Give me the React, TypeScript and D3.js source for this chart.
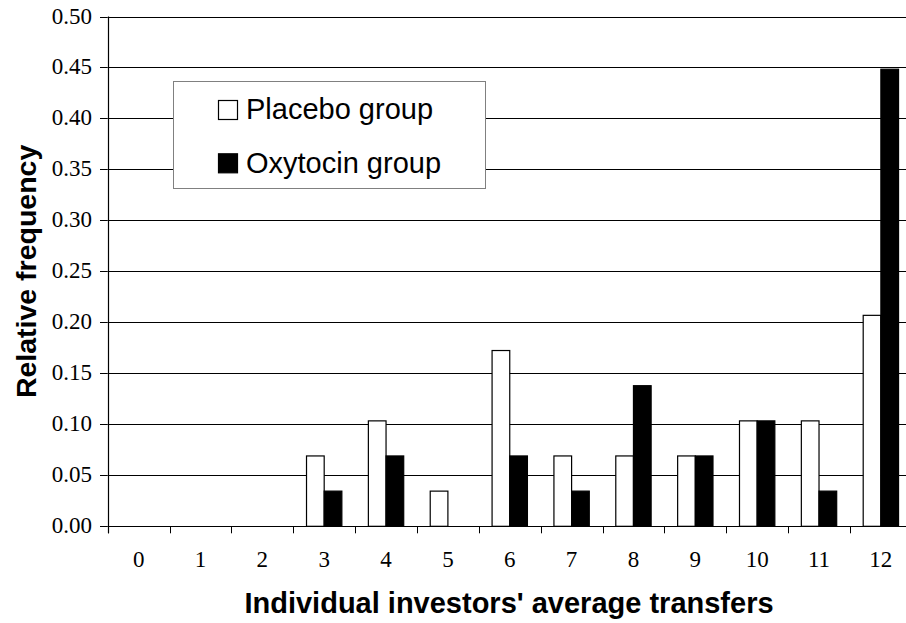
import React from "react";
import * as d3 from "d3";

const categories = ["0", "1", "2", "3", "4", "5", "6", "7", "8", "9", "10", "11", "12"];
const placebo = [0, 0, 0, 0.069, 0.1034, 0.0345, 0.1724, 0.069, 0.069, 0.069, 0.1034, 0.1034, 0.2069];
const oxytocin = [0, 0, 0, 0.0345, 0.069, 0, 0.069, 0.0345, 0.1379, 0.069, 0.1034, 0.0345, 0.4483];
const yTicks = [0, 0.05, 0.1, 0.15, 0.2, 0.25, 0.3, 0.35, 0.4, 0.45, 0.5];
const seriesNames = ["Placebo group", "Oxytocin group"];
const seriesFills = ["#ffffff", "#000000"];

const W = 906;
const H = 623;
const left = 107.7;
const right = 911.8;
const top = 16.5;
const bottom = 526.3;

export default function App() {
  const x = d3.scaleBand<string>().domain(categories).range([left, right]).paddingInner(1.5 / 3.5).paddingOuter(0.75 / 3.5);
  const xs = d3.scaleBand<string>().domain(seriesNames).range([0, x.bandwidth()]);
  const y = d3.scaleLinear().domain([0, 0.5]).range([bottom, top]);
  const step = x.step();
  const data = [placebo, oxytocin];
  const fmt = d3.format(".2f");
  const px = (v: number) => Math.round(v) + 0.5;

  return (
    <svg width={W} height={H} style={{ position: "absolute", left: 0, top: 0, background: "#fff" }}>
      {/* gridlines */}
      {yTicks.map((t) => (
        <line key={"g" + t} x1={left} x2={W} y1={px(y(t))} y2={px(y(t))} stroke="#000" strokeWidth={1} />
      ))}
      {/* y ticks */}
      {yTicks.map((t) => (
        <g key={"yt" + t}>
          <line x1={100} x2={left} y1={px(y(t))} y2={px(y(t))} stroke="#000" />
          <text x={92} y={y(t) + 7} textAnchor="end" fontFamily="'Liberation Serif', 'Times New Roman', serif" fontSize={23}>
            {fmt(t)}
          </text>
        </g>
      ))}
      {/* legend */}
      <rect x={173.5} y={81.5} width={312} height={107} fill="#fff" stroke="#808080" strokeWidth={1} />
      {seriesNames.map((n, i) => (
        <g key={n}>
          <rect x={218.5} y={100.5 + i * 53.3} width={19} height={19} fill={seriesFills[i]} stroke="#000" strokeWidth={1.2} />
          <text x={246} y={119 + i * 53.5} fontFamily="'Liberation Sans', Arial, sans-serif" fontSize={29}>
            {n}
          </text>
        </g>
      ))}
      {/* bars */}
      {categories.map((c, ci) => (
        <g key={"c" + c}>
          {data.map((s, si) =>
            s[ci] > 0 ? (
              <rect
                key={si}
                x={(x(c) as number) + (xs(seriesNames[si]) as number)}
                y={y(s[ci])}
                width={xs.bandwidth()}
                height={bottom - y(s[ci])}
                fill={seriesFills[si]}
                stroke="#000"
                strokeWidth={1.2}
              />
            ) : null
          )}
        </g>
      ))}
      {/* axes */}
      <line x1={px(left)} x2={px(left)} y1={top} y2={bottom + 7} stroke="#000" strokeWidth={1.2} />
      <line x1={left} x2={W} y1={px(bottom)} y2={px(bottom)} stroke="#000" strokeWidth={1.2} />
      {categories.map((c, ci) => (
        <g key={"xt" + c}>
          <line x1={px(left + ci * step)} x2={px(left + ci * step)} y1={bottom} y2={bottom + 7} stroke="#000" />
          <text x={(x(c) as number) + x.bandwidth() / 2} y={567} textAnchor="middle" fontFamily="'Liberation Serif', 'Times New Roman', serif" fontSize={23}>
            {c}
          </text>
        </g>
      ))}
      {/* titles */}
      <text x={509} y={613} textAnchor="middle" fontFamily="'Liberation Sans', Arial, sans-serif" fontWeight="bold" fontSize={29}>
        Individual investors' average transfers
      </text>
      <text transform={`translate(36,${(top + bottom) / 2}) rotate(-90)`} textAnchor="middle" fontFamily="'Liberation Sans', Arial, sans-serif" fontWeight="bold" fontSize={28.5}>
        Relative frequency
      </text>
    </svg>
  );
}
